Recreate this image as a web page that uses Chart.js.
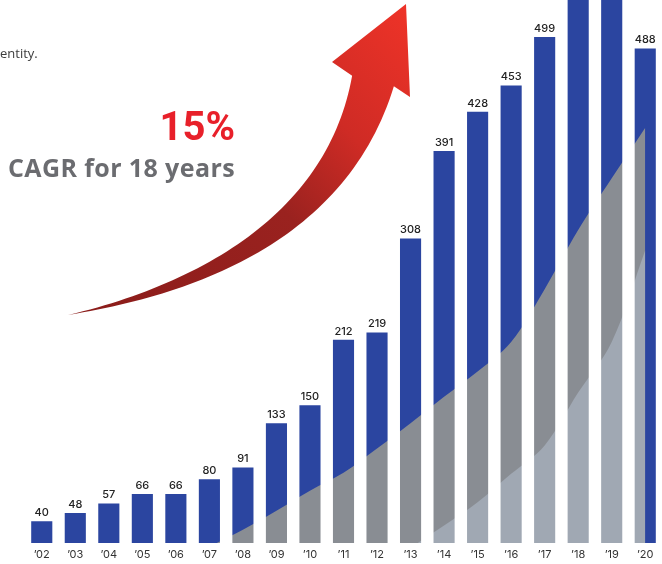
<!DOCTYPE html>
<html>
<head>
<meta charset="utf-8">
<script src="https://cdn.jsdelivr.net/npm/chart.js@4.4.1/dist/chart.umd.min.js"></script>
<style>
  html, body { margin: 0; padding: 0; background: #fff; }
  #wrap { position: relative; width: 662px; height: 564px; overflow: hidden; }
  #chart { position: absolute; left: 0; top: 0; }
  .note { position: absolute; white-space: nowrap; }
  #intro { left: 0; top: 44px; font: 13px "Open Sans", sans-serif; line-height: 18px; color: #3c3c3c; }
  #pct { right: 427px; top: 107px; font: bold 40px Roboto, sans-serif; line-height: 40px; color: #e8202a; }
  #cagr { right: 427px; top: 155px; font: bold 25px "Open Sans", sans-serif; line-height: 25px; letter-spacing: 0.4px; color: #6b6c70; }
</style>
</head>
<body>
<div id="wrap">
  <canvas id="chart" width="662" height="564"></canvas>
  <div class="note" id="intro">entity.</div>
  <div class="note" id="pct">15%</div>
  <div class="note" id="cagr">CAGR for 18 years</div>
</div>
<script>
const years = ["’02", "’03", "’04", "’05", "’06", "’07", "’08", "’09", "’10", "’11",
               "’12", "’13", "’14", "’15", "’16", "’17", "’18", "’19", "’20"];
// totals; '18 and '19 run off the top of the picture
const totals = [40, 48, 57, 66, 66, 80, 91, 133, 150, 212, 219, 308, 391, 428, 453, 499, 560, 600, 488];
// gray shaded parts inside the bars
const darkPart = [null, null, null, null, null, 16, 32, 50, 69, 86, 109, 133, 158, 182, 210, 260, 316, 365, 413];
const lightPart = [null, null, null, null, null, null, null, null, null, null, null, 15, 36, 58, 85, 112, 162, 210, 297];

const BLUE = "#2b45a0";
const DARK = "#898d93";
const LIGHT = "#a0a8b3";

// grey areas only show inside bars (source-atop after bars are drawn)
const maskPlugin = {
    id: "mask",
    afterDatasetDraw(chart, args) {
        if (args.index === 0) {
            chart.ctx.save();
            chart.ctx.globalCompositeOperation = "source-atop";
        }
    },
    afterDatasetsDraw(chart) {
        chart.ctx.restore();
    }
};

const labelPlugin = {
    id: "barLabels",
    afterDraw(chart) {
        const ctx = chart.ctx;
        const meta = chart.getDatasetMeta(0);
        const max = chart.scales.y.max;
        ctx.save();
        ctx.font = "500 11px Inter, sans-serif";
        ctx.fillStyle = "#222";
        ctx.textAlign = "center";
        ctx.textBaseline = "bottom";
        for (let i = 0; i < meta.data.length; i++) {
            if (totals[i] > max) continue;
            const bar = meta.data[i];
            ctx.fillText(totals[i], bar.x, bar.y - 3);
        }
        ctx.restore();
    }
};

function bez(p0, p1, p2, p3, t) {
    const u = 1 - t;
    return [
        u*u*u*p0[0] + 3*u*u*t*p1[0] + 3*u*t*t*p2[0] + t*t*t*p3[0],
        u*u*u*p0[1] + 3*u*u*t*p1[1] + 3*u*t*t*p2[1] + t*t*t*p3[1]
    ];
}

const arrowPlugin = {
    id: "arrow",
    afterDraw(chart) {
        const ctx = chart.ctx;
        const p0 = [68, 315], p1 = [218, 285], p2 = [340, 215], p3 = [373, 81];
        const left = [], right = [];
        const n = 60;
        for (let i = 0; i <= n; i++) {
            const t = i / n;
            const a = bez(p0, p1, p2, p3, t);
            const b = bez(p0, p1, p2, p3, Math.min(1, t + 0.001));
            const c = bez(p0, p1, p2, p3, Math.max(0, t - 0.001));
            let dx = b[0] - c[0], dy = b[1] - c[1];
            const len = Math.hypot(dx, dy);
            dx /= len; dy /= len;
            const w = 21.5 * Math.pow(t, 1.1);
            left.push([a[0] + dy * w, a[1] - dx * w]);
            right.push([a[0] - dy * w, a[1] + dx * w]);
        }
        const grad = ctx.createLinearGradient(68, 315, 406, 4);
        grad.addColorStop(0, "#8a1c1a");
        grad.addColorStop(0.5, "#9a221f");
        grad.addColorStop(0.72, "#cf2b25");
        grad.addColorStop(1, "#ee3328");
        ctx.save();
        ctx.fillStyle = grad;
        ctx.beginPath();
        ctx.moveTo(left[0][0], left[0][1]);
        for (let i = 1; i < left.length; i++) ctx.lineTo(left[i][0], left[i][1]);
        // head
        ctx.lineTo(332, 62);
        ctx.lineTo(406, 4);
        ctx.lineTo(410, 97);
        for (let i = right.length - 1; i >= 0; i--) ctx.lineTo(right[i][0], right[i][1]);
        ctx.closePath();
        ctx.fill();
        ctx.restore();
    }
};

const ctx = document.getElementById("chart").getContext("2d");
const chart = new Chart(ctx, {
    type: "bar",
    data: {
        labels: years,
        datasets: [{
            data: totals,
            backgroundColor: BLUE,
            barPercentage: 0.63,
            categoryPercentage: 1,
            order: 3
        }, {
            type: "line",
            data: darkPart,
            backgroundColor: DARK,
            borderWidth: 0,
            pointRadius: 0,
            tension: 0.35,
            fill: "start",
            order: 2
        }, {
            type: "line",
            data: lightPart,
            backgroundColor: LIGHT,
            borderWidth: 0,
            pointRadius: 0,
            tension: 0.35,
            fill: "start",
            order: 1
        }]
    },
    options: {
        responsive: false,
        animation: false,
        events: [],
        layout: { padding: { left: 25, right: 0, top: 0, bottom: 0 } },
        plugins: {
            legend: { display: false },
            tooltip: { enabled: false }
        },
        scales: {
            x: {
                grid: { display: false, drawTicks: false },
                border: { display: false },
                afterFit(scale) { scale.height = 21; },
                ticks: {
                    padding: 5.5,
                    color: "#333",
                    font: { family: "Inter, sans-serif", size: 11 }
                }
            },
            y: {
                display: false,
                min: 19.5,
                max: 534
            }
        }
    },
    plugins: [maskPlugin, labelPlugin, arrowPlugin]
});
</script>
</body>
</html>
